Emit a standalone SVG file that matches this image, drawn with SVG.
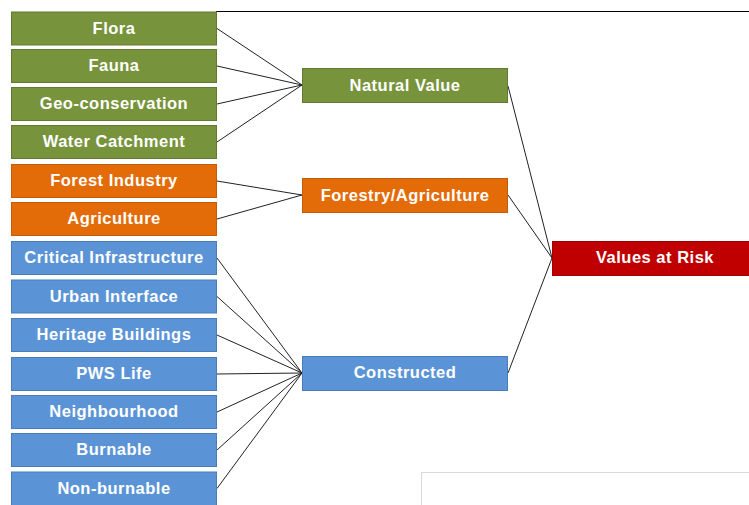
<svg xmlns="http://www.w3.org/2000/svg" width="749" height="505" viewBox="0 0 749 505">
<style>
.g{fill:#77933C;stroke:#627a30;stroke-width:1}
.o{fill:#E36C09;stroke:#c25c08;stroke-width:1}
.b{fill:#5B94D6;stroke:#4a7cb8;stroke-width:1}
.r{fill:#C00000;stroke:#a00000;stroke-width:1}
text{font-family:"Liberation Sans",Arial,sans-serif;font-weight:bold;font-size:16.5px;fill:#ffffff;text-anchor:middle;letter-spacing:0.5px}
.c line{stroke:#222;stroke-width:1}
</style>
<rect x="0" y="0" width="749" height="505" fill="#ffffff"/>
<line x1="216" y1="11.5" x2="749" y2="11.5" stroke="#000" stroke-width="1"/>
<rect x="421.5" y="472.5" width="330" height="40" fill="#fff" stroke="#d9d9d9" stroke-width="1"/>
<g class="c">
<line x1="217" y1="28.5" x2="302" y2="85"/>
<line x1="217" y1="66" x2="302" y2="85"/>
<line x1="217" y1="104" x2="302" y2="85"/>
<line x1="217" y1="142" x2="302" y2="85"/>
<line x1="217" y1="181" x2="302" y2="195"/>
<line x1="217" y1="219" x2="302" y2="195"/>
<line x1="217" y1="258" x2="302" y2="373"/>
<line x1="217" y1="296.5" x2="302" y2="373"/>
<line x1="217" y1="335" x2="302" y2="373"/>
<line x1="217" y1="374" x2="302" y2="373"/>
<line x1="217" y1="412" x2="302" y2="373"/>
<line x1="217" y1="450" x2="302" y2="373"/>
<line x1="217" y1="488.5" x2="302" y2="373"/>
<line x1="508" y1="86" x2="552" y2="258"/>
<line x1="508" y1="195" x2="552" y2="258"/>
<line x1="508" y1="373" x2="552" y2="258"/>
</g>
<g id="flora"><rect class="g" x="11.5" y="12" width="205" height="33"/><text x="114" y="33.5">Flora</text></g>
<g id="fauna"><rect class="g" x="11.5" y="49.5" width="205" height="33"/><text x="114" y="71">Fauna</text></g>
<g id="geo"><rect class="g" x="11.5" y="87.5" width="205" height="33"/><text x="114" y="109">Geo-conservation</text></g>
<g id="water"><rect class="g" x="11.5" y="125.5" width="205" height="33"/><text x="114" y="147">Water Catchment</text></g>
<g id="forest"><rect class="o" x="11.5" y="164.5" width="205" height="33"/><text x="114" y="186">Forest Industry</text></g>
<g id="agri"><rect class="o" x="11.5" y="202.5" width="205" height="33"/><text x="114" y="224">Agriculture</text></g>
<g id="critical"><rect class="b" x="11.5" y="241.5" width="205" height="33"/><text x="114" y="263">Critical Infrastructure</text></g>
<g id="urban"><rect class="b" x="11.5" y="280" width="205" height="33"/><text x="114" y="301.5">Urban Interface</text></g>
<g id="heritage"><rect class="b" x="11.5" y="318.5" width="205" height="33"/><text x="114" y="340">Heritage Buildings</text></g>
<g id="pws"><rect class="b" x="11.5" y="357.5" width="205" height="33"/><text x="114" y="379">PWS Life</text></g>
<g id="neigh"><rect class="b" x="11.5" y="395.5" width="205" height="33"/><text x="114" y="417">Neighbourhood</text></g>
<g id="burnable"><rect class="b" x="11.5" y="433.5" width="205" height="33"/><text x="114" y="455">Burnable</text></g>
<g id="nonburnable"><rect class="b" x="11.5" y="472" width="205" height="34"/><text x="114" y="493.5">Non-burnable</text></g>
<g id="natural"><rect class="g" x="302.5" y="68.5" width="205" height="34"/><text x="405" y="90.5">Natural Value</text></g>
<g id="forestry"><rect class="o" x="302.5" y="178.5" width="205" height="34"/><text x="405" y="200.5">Forestry/Agriculture</text></g>
<g id="constructed"><rect class="b" x="302.5" y="356.5" width="205" height="34"/><text x="405" y="377.5">Constructed</text></g>
<g id="var"><rect class="r" x="552.5" y="241.5" width="206" height="34"/><text x="655" y="262.5">Values at Risk</text></g>
</svg>
